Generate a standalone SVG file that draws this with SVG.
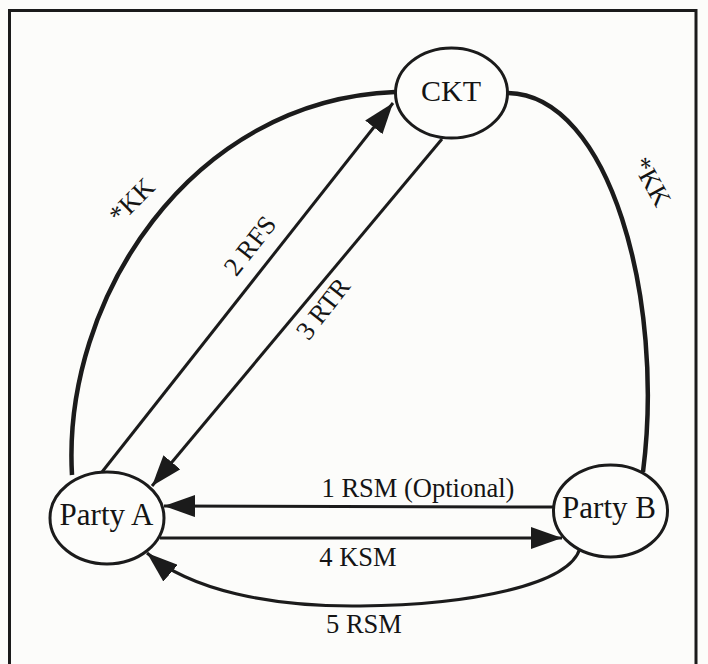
<svg xmlns="http://www.w3.org/2000/svg" width="708" height="664" viewBox="0 0 708 664">
  <style>
    .frame { fill: none; stroke: #1b1b1b; stroke-width: 3; }
    .node ellipse { fill: #fdfdfb; stroke: #1b1b1b; stroke-width: 3; }
    .node text { font-family: "Liberation Serif", "Times New Roman", serif; font-size: 31px; fill: #141414; text-anchor: middle; }
    .edge { fill: none; stroke: #1b1b1b; stroke-width: 3; }
    .key { fill: none; stroke: #1b1b1b; stroke-width: 4.5; }
    .lbl { font-family: "Liberation Serif", "Times New Roman", serif; font-size: 26.5px; fill: #141414; text-anchor: middle; }
  </style>
  <defs>
    <marker id="arrow" markerUnits="userSpaceOnUse" markerWidth="32" markerHeight="22" refX="31" refY="11" orient="auto">
      <path d="M0,0 L31,11 L0,22 Z" fill="#1b1b1b"/>
    </marker>
  </defs>

  <rect width="708" height="664" fill="#fcfcfa"/>
  <path class="frame" d="M9.5,664 V10.5 H696 V664"/>

  <g id="connectors">
    <!-- key distribution arcs -->
    <path class="key" d="M72,475 C62,300 190,100 395,92"/>
    <path class="key" d="M508,93 C610,95 665,300 643,472"/>
    <!-- request / response between Party A and CKT -->
    <path class="edge" d="M102,472 L393,103" marker-end="url(#arrow)"/>
    <path class="edge" d="M442,139 L152,486" marker-end="url(#arrow)"/>
    <!-- messages between the parties -->
    <path class="edge" d="M553,507 L164,506" marker-end="url(#arrow)"/>
    <path class="edge" d="M160,538 L562,538" marker-end="url(#arrow)"/>
    <path class="edge" d="M580,548 C570,585 470,605 360,606 C270,607 190,590 147,553" marker-end="url(#arrow)"/>

    <text class="lbl" transform="translate(138,207) rotate(-45)">*KK</text>
    <text class="lbl" transform="translate(644,186) rotate(61)">*KK</text>
    <text class="lbl" transform="translate(257,251) rotate(-52)">2 RFS</text>
    <text class="lbl" transform="translate(330,314) rotate(-52)">3 RTR</text>
    <text class="lbl" x="418" y="497">1 RSM (Optional)</text>
    <text class="lbl" x="358" y="566">4 KSM</text>
    <text class="lbl" x="364" y="633">5 RSM</text>
  </g>

  <g id="ckt" class="node">
    <ellipse cx="451.5" cy="93" rx="56" ry="45"/>
    <text x="451" y="101" style="font-size:30px">CKT</text>
  </g>
  <g id="party-a" class="node">
    <ellipse cx="107" cy="518" rx="57" ry="46"/>
    <text x="106.5" y="525">Party A</text>
  </g>
  <g id="party-b" class="node">
    <ellipse cx="610.5" cy="511" rx="57" ry="46"/>
    <text x="609" y="518">Party B</text>
  </g>
</svg>
